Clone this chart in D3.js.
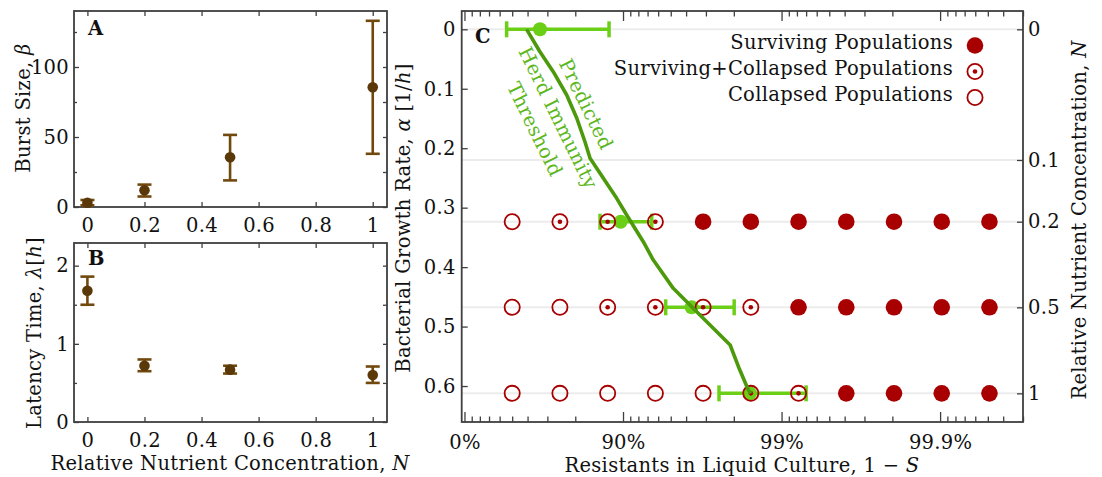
<!DOCTYPE html>
<html lang="en">
<head>
<meta charset="UTF-8">
<title>Burst size, latency and herd immunity</title>
<script src="https://cdnjs.cloudflare.com/ajax/libs/d3/7.8.5/d3.min.js"></script>
<style>
    body { margin: 0; background: #fff; }
    svg { display: block; font-family: 'DejaVu Serif', serif; }
    svg text {
        font-family: 'DejaVu Serif', serif;
        font-size: 19.5px;
        letter-spacing: 0.3px;
        fill: #111;
    }
    .axis line { stroke: #3f3f3f; stroke-width: 1.3; }
    .axis path { display: none; }
    .frame { fill: none; stroke: #3f3f3f; stroke-width: 1.8; }
    .panel-tag { font-weight: bold; }
    .grid { stroke: #ececec; stroke-width: 2; }
    .hit text { fill: #5cb71c; }
</style>
</head>
<body>
<svg width="1102" height="477"></svg>
<script>
    // panels A and B: phage traits against relative nutrient concentration
    var nutrient = [0, 0.2, 0.5, 1];
    var burstSize = [3, 12, 35.5, 85.5];
    var burstLow = [1.2, 7.5, 19, 38];
    var burstHigh = [5, 16, 51.5, 133];
    var latency = [1.68, 0.72, 0.67, 0.6];
    var latencyLow = [1.5, 0.65, 0.62, 0.5];
    var latencyHigh = [1.86, 0.8, 0.72, 0.71];

    // panel C: plate columns, fraction of resistants in liquid culture (1 - S)
    var resistantCols = [0.5, 0.75, 0.875, 0.9375, 0.96875, 0.984375, 0.9921875,
        0.99609375, 0.998046875, 0.9990234375, 0.99951171875];
    // outcome per column: 0 collapsed, 1 surviving+collapsed, 2 surviving
    var rowNutrient = [0.2, 0.5, 1];
    var rowOutcome = [
        [0, 1, 1, 1, 2, 2, 2, 2, 2, 2, 2],
        [0, 0, 1, 1, 1, 1, 2, 2, 2, 2, 2],
        [0, 0, 0, 0, 0, 1, 1, 2, 2, 2, 2]
    ];
    // right axis: nutrient concentration and the growth rate it gives
    var nTicks = [0, 0.1, 0.2, 0.5, 1];
    var nGrowth = [0, 0.2198, 0.3236, 0.4676, 0.6123];

    // measured herd immunity threshold
    var measGrowth = [0, 0.3236, 0.4676, 0.6123];
    var measThreshold = [0.666, 0.8965, 0.9631, 0.9842];
    var measLow = [0.458, 0.8604, 0.9462, 0.9752];
    var measHigh = [0.8775, 0.9341, 0.9801, 0.993];

    // predicted threshold curve
    var predGrowth = [0, 0.0377, 0.0713, 0.1105, 0.1492, 0.1891, 0.217, 0.2506, 0.2843,
        0.3124, 0.3573, 0.3881, 0.4357, 0.475, 0.531, 0.5675, 0.6067, 0.6123];
    var predThreshold = [0.5945, 0.6658, 0.7246, 0.7735, 0.8041, 0.8262, 0.8386, 0.867, 0.8904,
        0.9052, 0.9255, 0.9356, 0.9518, 0.9657, 0.9789, 0.9813, 0.9838, 0.9844];

    var brownBar = "#71490d", brownDot = "#5a3808";
    var red = "#a80000", lime = "#6ccf17", darkGreen = "#4c9a0c";
    var fmt = d3.format("~g");

    var svg = d3.select("svg");

    // ---------- panels A and B ----------
    var xN = d3.scaleLinear().domain([-0.047, 1.05]).range([74, 387]);
    var yBurst = d3.scaleLinear().domain([0, 140]).range([207, 11]);
    var yLat = d3.scaleLinear().domain([0, 2.29]).range([422, 243]);

    function smallPanel(y, yMajor, yMinor) {
        var top = y.range()[1], bottom = y.range()[0];
        var left = xN.range()[0], right = xN.range()[1];
        var xt = [0, 0.2, 0.4, 0.6, 0.8, 1];

        svg.append("g").attr("class", "axis").attr("transform", "translate(0," + bottom + ")")
            .call(d3.axisBottom(xN).tickValues(xt).tickSizeInner(-5).tickSizeOuter(0)
                .tickPadding(11).tickFormat(fmt));
        svg.append("g").attr("class", "axis").attr("transform", "translate(0," + top + ")")
            .call(d3.axisTop(xN).tickValues(xt).tickSizeInner(-5).tickSizeOuter(0).tickFormat(""));
        svg.append("g").attr("class", "axis").attr("transform", "translate(" + left + ",0)")
            .call(d3.axisLeft(y).tickValues(yMajor).tickSizeInner(-5).tickSizeOuter(0)
                .tickPadding(5).tickFormat(fmt));
        svg.append("g").attr("class", "axis").attr("transform", "translate(" + left + ",0)")
            .call(d3.axisLeft(y).tickValues(yMinor).tickSizeInner(-3).tickSizeOuter(0).tickFormat(""));
        svg.append("g").attr("class", "axis").attr("transform", "translate(" + right + ",0)")
            .call(d3.axisRight(y).tickValues(yMajor.concat(yMinor)).tickSizeInner(-4)
                .tickSizeOuter(0).tickFormat(""));
        svg.append("rect").attr("class", "frame")
            .attr("x", left).attr("y", top).attr("width", right - left).attr("height", bottom - top);
    }

    function errorDots(y, vals, lo, hi) {
        var g = svg.append("g");
        nutrient.forEach(function (n, i) {
            var cx = xN(n);
            g.append("line").attr("x1", cx).attr("x2", cx).attr("y1", y(lo[i])).attr("y2", y(hi[i]))
                .attr("stroke", brownBar).attr("stroke-width", 2.6);
            [lo[i], hi[i]].forEach(function (v) {
                g.append("line").attr("x1", cx - 7).attr("x2", cx + 7).attr("y1", y(v)).attr("y2", y(v))
                    .attr("stroke", brownBar).attr("stroke-width", 2.6);
            });
            g.append("circle").attr("cx", cx).attr("cy", y(vals[i])).attr("r", 5.3).attr("fill", brownDot);
        });
    }

    smallPanel(yBurst, [0, 50, 100], [25, 75, 125]);
    errorDots(yBurst, burstSize, burstLow, burstHigh);
    smallPanel(yLat, [0, 1, 2], [0.5, 1.5]);
    errorDots(yLat, latency, latencyLow, latencyHigh);

    svg.append("text").attr("class", "panel-tag").attr("x", 88).attr("y", 35).text("A");
    svg.append("text").attr("class", "panel-tag").attr("x", 88).attr("y", 265).text("B");

    var lab = svg.append("text").attr("text-anchor", "middle")
        .attr("transform", "translate(30,108) rotate(-90)");
    lab.append("tspan").text("Burst Size, ");
    lab.append("tspan").attr("font-style", "italic").text("β");

    lab = svg.append("text").attr("text-anchor", "middle")
        .attr("transform", "translate(41,333) rotate(-90)");
    lab.append("tspan").text("Latency Time, ");
    lab.append("tspan").attr("font-style", "italic").text("λ");
    lab.append("tspan").text("[");
    lab.append("tspan").attr("font-style", "italic").text("h");
    lab.append("tspan").text("]");

    lab = svg.append("text").attr("text-anchor", "middle").attr("x", 230).attr("y", 470);
    lab.append("tspan").text("Relative Nutrient Concentration, ");
    lab.append("tspan").attr("font-style", "italic").text("N");

    // ---------- panel C ----------
    var cLeft = 461.7, cRight = 1023, cTop = 11, cBottom = 422;
    // log scale on the sensitive fraction S, labelled as 1 - S
    var xC = d3.scaleLog().domain([1.041, 0.0003]).range([cLeft, cRight]);
    var xR = function (r) { return xC(1 - r); };
    var yC = d3.scaleLinear().domain([-0.0308, 0.6605]).range([cTop, cBottom]);
    var yRight = d3.scaleLinear().domain(nTicks).range(nGrowth.map(yC));
    var growthOfN = d3.scaleLinear().domain(nTicks).range(nGrowth);

    svg.append("g").selectAll("line").data(nTicks).join("line").attr("class", "grid")
        .attr("x1", cLeft).attr("x2", cRight)
        .attr("y1", function (d) { return yRight(d); }).attr("y2", function (d) { return yRight(d); });

    // measured thresholds
    var meas = svg.append("g");
    measGrowth.forEach(function (a, i) {
        var cy = yC(a);
        meas.append("line").attr("x1", xR(measLow[i])).attr("x2", xR(measHigh[i]))
            .attr("y1", cy).attr("y2", cy).attr("stroke", lime).attr("stroke-width", 3.5);
        [measLow[i], measHigh[i]].forEach(function (v) {
            meas.append("line").attr("x1", xR(v)).attr("x2", xR(v)).attr("y1", cy - 8).attr("y2", cy + 8)
                .attr("stroke", lime).attr("stroke-width", 3.5);
        });
        meas.append("circle").attr("cx", xR(measThreshold[i])).attr("cy", cy).attr("r", 7).attr("fill", lime);
    });

    // plate outcomes
    function outcomeMark(g, cx, cy, kind) {
        if (kind === 2) {
            g.append("circle").attr("cx", cx).attr("cy", cy).attr("r", 8.3).attr("fill", red);
        } else {
            g.append("circle").attr("cx", cx).attr("cy", cy).attr("r", 7.6)
                .attr("fill", "none").attr("stroke", red).attr("stroke-width", 1.8);
            if (kind === 1) g.append("circle").attr("cx", cx).attr("cy", cy).attr("r", 2.3).attr("fill", red);
        }
    }
    var plates = svg.append("g");
    rowNutrient.forEach(function (n, j) {
        resistantCols.forEach(function (r, i) {
            outcomeMark(plates, xR(r), yC(growthOfN(n)), rowOutcome[j][i]);
        });
    });

    // predicted curve
    var predLine = d3.line()
        .x(function (d, i) { return xR(predThreshold[i]); })
        .y(function (d) { return yC(d); });
    svg.append("path").datum(predGrowth).attr("d", predLine)
        .attr("fill", "none").attr("stroke", darkGreen).attr("stroke-width", 3.6)
        .attr("stroke-linejoin", "round");

    // label along the curve, nudged off the line
    var hit = svg.append("g").attr("class", "hit")
        .attr("transform", "translate(" + (xR(0.7585) - 4) + "," + (yC(0.1453) + 2) + ") rotate(64)");
    ["Predicted", "Herd Immunity", "Threshold"].forEach(function (t, i) {
        var off = i === 0 ? -31 : (i - 1) * 26;
        hit.append("text").attr("text-anchor", "middle").attr("y", off)
            .attr("dy", "0.35em").text(t);
    });

    // legend
    var legendRows = ["Surviving Populations", "Surviving+Collapsed Populations", "Collapsed Populations"];
    var legendKind = [2, 1, 0];
    var legend = svg.append("g");
    legendRows.forEach(function (t, i) {
        var by = 48.5 + i * 26;
        legend.append("text").attr("text-anchor", "end").attr("x", 953).attr("y", by).text(t);
        outcomeMark(legend, 975, by - 3, legendKind[i]);
    });

    // axes of C
    var logTicks = xC.ticks();
    var isDecade = function (s) { return Math.abs(Math.log10(s) - Math.round(Math.log10(s))) < 1e-9; };
    var majors = logTicks.filter(isDecade), minors = logTicks.filter(function (s) { return !isDecade(s); });
    var pct = function (s) { return d3.format(".1~%")(1 - s); };

    svg.append("g").attr("class", "axis").attr("transform", "translate(0," + cBottom + ")")
        .call(d3.axisBottom(xC).tickValues(majors).tickSizeInner(-10).tickSizeOuter(0)
            .tickPadding(13).tickFormat(pct));
    svg.append("g").attr("class", "axis").attr("transform", "translate(0," + cBottom + ")")
        .call(d3.axisBottom(xC).tickValues(minors).tickSizeInner(-5.5).tickSizeOuter(0).tickFormat(""));
    svg.append("g").attr("class", "axis").attr("transform", "translate(0," + cTop + ")")
        .call(d3.axisTop(xC).tickValues(majors).tickSizeInner(-10).tickSizeOuter(0).tickFormat(""));
    svg.append("g").attr("class", "axis").attr("transform", "translate(0," + cTop + ")")
        .call(d3.axisTop(xC).tickValues(minors).tickSizeInner(-5.5).tickSizeOuter(0).tickFormat(""));
    svg.append("g").attr("class", "axis").attr("transform", "translate(" + cLeft + ",0)")
        .call(d3.axisLeft(yC).ticks(7).tickSizeInner(-6).tickSizeOuter(0).tickPadding(6).tickFormat(fmt));
    svg.append("g").attr("class", "axis").attr("transform", "translate(" + cRight + ",0)")
        .call(d3.axisRight(yRight).tickValues(nTicks).tickSizeInner(-6).tickSizeOuter(0)
            .tickPadding(5).tickFormat(fmt));
    svg.append("rect").attr("class", "frame")
        .attr("x", cLeft).attr("y", cTop).attr("width", cRight - cLeft).attr("height", cBottom - cTop);

    svg.append("text").attr("class", "panel-tag").attr("x", 475).attr("y", 43).text("C");

    lab = svg.append("text").attr("text-anchor", "middle")
        .attr("transform", "translate(410,218) rotate(-90)");
    lab.append("tspan").text("Bacterial Growth Rate, ");
    lab.append("tspan").attr("font-style", "italic").text("α");
    lab.append("tspan").text(" [1/");
    lab.append("tspan").attr("font-style", "italic").text("h");
    lab.append("tspan").text("]");

    lab = svg.append("text").attr("text-anchor", "middle")
        .attr("transform", "translate(1086,220) rotate(-90)");
    lab.append("tspan").text("Relative Nutrient Concentration, ");
    lab.append("tspan").attr("font-style", "italic").text("N");

    lab = svg.append("text").attr("text-anchor", "middle").attr("x", 742).attr("y", 472);
    lab.append("tspan").text("Resistants in Liquid Culture, 1 − ");
    lab.append("tspan").attr("font-style", "italic").text("S");
</script>
</body>
</html>
